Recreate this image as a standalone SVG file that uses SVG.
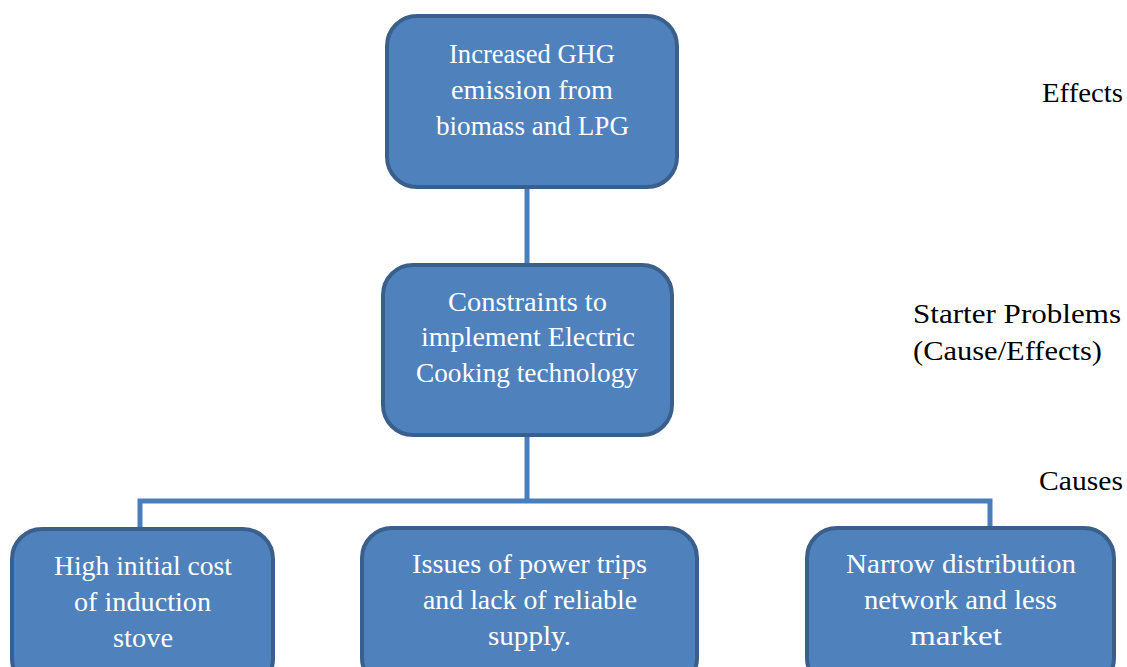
<svg xmlns="http://www.w3.org/2000/svg" width="1127" height="667" viewBox="0 0 1127 667">
  <style>
    .box { fill: #4F81BD; stroke: #3A5F8B; stroke-width: 4; }
    .wire { fill: none; stroke: #4A7EBB; stroke-width: 5; }
    .t { font-family: "Liberation Serif", "DejaVu Serif", serif; font-size: 27px; fill: #FFFFFF; }
    .side { font-family: "Liberation Serif", "DejaVu Serif", serif; font-size: 27px; fill: #000000; }
  </style>
  <rect width="1127" height="667" fill="#FFFFFF"/>

  <!-- connectors -->
  <g id="connectors">
    <line class="wire" x1="527" y1="187" x2="527" y2="265"/>
    <line class="wire" x1="527" y1="435" x2="527" y2="501"/>
    <polyline class="wire" points="140,529 140,501 990,501 990,528"/>
  </g>

  <g id="effect">
    <rect class="box" x="387" y="16" width="290" height="171" rx="30"/>
    <text class="t" x="449" y="63" textLength="166" lengthAdjust="spacingAndGlyphs">Increased GHG</text>
    <text class="t" x="451" y="99" textLength="162" lengthAdjust="spacingAndGlyphs">emission from</text>
    <text class="t" x="436" y="135" textLength="193" lengthAdjust="spacingAndGlyphs">biomass and LPG</text>
  </g>

  <g id="starter">
    <rect class="box" x="383" y="265" width="289" height="170" rx="30"/>
    <text class="t" x="448" y="311" textLength="159" lengthAdjust="spacingAndGlyphs">Constraints to</text>
    <text class="t" x="421" y="346" textLength="214" lengthAdjust="spacingAndGlyphs">implement Electric</text>
    <text class="t" x="416" y="382" textLength="222" lengthAdjust="spacingAndGlyphs">Cooking technology</text>
  </g>

  <g id="cause-cost">
    <rect class="box" x="12" y="529" width="261" height="160" rx="30"/>
    <text class="t" x="54" y="575" textLength="178" lengthAdjust="spacingAndGlyphs">High initial cost</text>
    <text class="t" x="74" y="611" textLength="137" lengthAdjust="spacingAndGlyphs">of induction</text>
    <text class="t" x="113" y="647" textLength="60" lengthAdjust="spacingAndGlyphs">stove</text>
  </g>

  <g id="cause-supply">
    <rect class="box" x="362" y="528" width="335" height="160" rx="30"/>
    <text class="t" x="412" y="573" textLength="235" lengthAdjust="spacingAndGlyphs">Issues of power trips</text>
    <text class="t" x="423" y="609" textLength="214" lengthAdjust="spacingAndGlyphs">and lack of reliable</text>
    <text class="t" x="488" y="645" textLength="83" lengthAdjust="spacingAndGlyphs">supply.</text>
  </g>

  <g id="cause-market">
    <rect class="box" x="807" y="528" width="307" height="160" rx="30"/>
    <text class="t" x="846" y="573" textLength="230" lengthAdjust="spacingAndGlyphs">Narrow distribution</text>
    <text class="t" x="864" y="609" textLength="193" lengthAdjust="spacingAndGlyphs">network and less</text>
    <text class="t" x="910" y="645" textLength="92" lengthAdjust="spacingAndGlyphs">market</text>
  </g>

  <g id="levels">
    <text class="side" x="1042" y="102" textLength="81" lengthAdjust="spacingAndGlyphs">Effects</text>
    <text class="side" x="913" y="323" textLength="208" lengthAdjust="spacingAndGlyphs">Starter Problems</text>
    <text class="side" x="913" y="360" textLength="189" lengthAdjust="spacingAndGlyphs">(Cause/Effects)</text>
    <text class="side" x="1039" y="490" textLength="84" lengthAdjust="spacingAndGlyphs">Causes</text>
  </g>
</svg>
